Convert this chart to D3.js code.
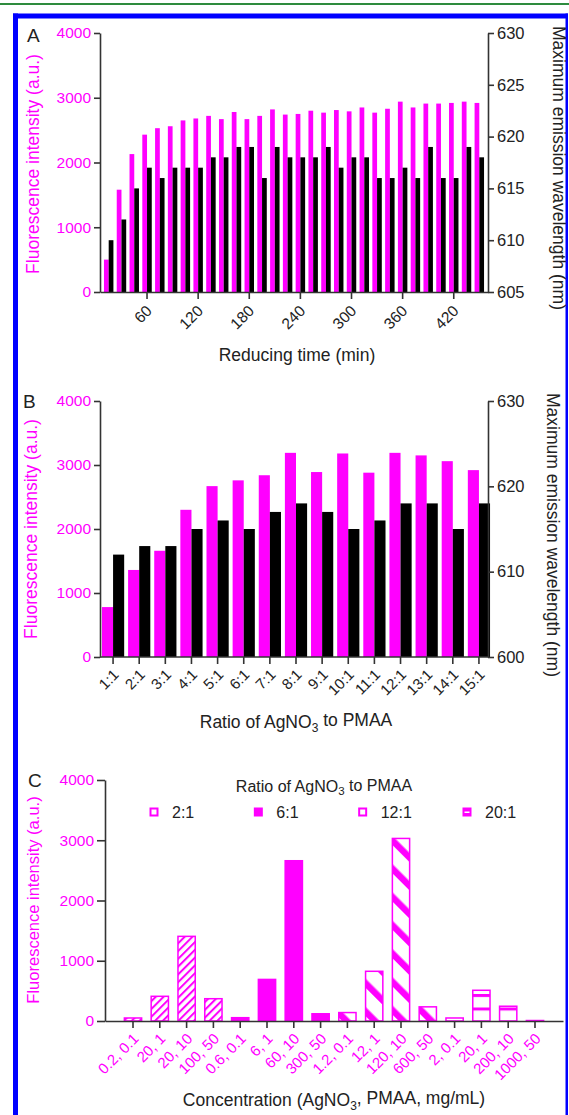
<!DOCTYPE html>
<html><head><meta charset="utf-8">
<script src="https://cdn.jsdelivr.net/npm/d3@7"></script>
<style>
body{margin:0;background:#fff;}
svg text{font-family:"Liberation Sans",Arial,Helvetica,sans-serif;}
</style>
</head><body>
<svg id="chart" width="569" height="1115"></svg>
<script>
// ---------- DATA ----------
const timeMinutes = [15,30,45,60,75,90,105,120,135,150,165,180,195,210,225,240,255,270,285,300,315,330,345,360,375,390,405,420,435,450];
const timeIntensity = [500,1580,2130,2430,2530,2560,2650,2680,2720,2670,2780,2670,2720,2820,2740,2750,2800,2770,2810,2790,2850,2770,2830,2940,2850,2910,2910,2920,2940,2920];
const timeWavelength = [610,612,615,617,616,617,617,617,618,618,619,619,616,619,618,618,618,619,617,618,618,616,616,617,616,619,616,616,619,618];
const timeTicks = [60,120,180,240,300,360,420];

const ratioLabels = ["1:1","2:1","3:1","4:1","5:1","6:1","7:1","8:1","9:1","10:1","11:1","12:1","13:1","14:1","15:1"];
const ratioIntensity = [780,1360,1660,2300,2670,2760,2840,3190,2890,3180,2880,3190,3150,3060,2920];
const ratioWavelength = [612,613,613,615,616,615,617,618,617,615,616,618,618,615,618];

const concLabels = ["0.2, 0.1","20, 1","20, 10","100, 50","0.6, 0.1","6, 1","60, 10","300, 50","1.2, 0.1","12, 1","120, 10","600, 50","2, 0.1","20, 1","200, 10","1000, 50"];
const concGroups = ["2:1","2:1","2:1","2:1","6:1","6:1","6:1","6:1","12:1","12:1","12:1","12:1","20:1","20:1","20:1","20:1"];
const concIntensity = [50,410,1405,370,55,690,2660,120,140,825,3030,235,50,510,245,8];
const legendRatios = ["2:1","6:1","12:1","20:1"];

const intensityTicks = [0,1000,2000,3000,4000];
const wavelengthTicksA = [605,610,615,620,625,630];
const wavelengthTicksB = [600,610,620,630];

// ---------- STYLE ----------
const MAG = "#ff00ff", INK = "#222", AX = "#333";
const tickFont = "15.5px", titleFont = "17.5px";
const fmt = d3.format("d");

const svg = d3.select("#chart");

// frame
svg.append("rect").attr("x",0).attr("y",3).attr("width",569).attr("height",2).attr("fill","#2e8b3e");
svg.append("rect").attr("x",13).attr("y",13.5).attr("width",555).attr("height",5).attr("fill","#0000ff");
svg.append("rect").attr("x",13).attr("y",13.5).attr("width",5).attr("height",1102).attr("fill","#0000ff");
svg.append("rect").attr("x",565.5).attr("y",13.5).attr("width",2.5).attr("height",1102).attr("fill","#0000ff");

// patterns
const defs = svg.append("defs");
const p2 = defs.append("pattern").attr("id","pat2").attr("patternUnits","userSpaceOnUse")
  .attr("width",5.5).attr("height",10).attr("patternTransform","rotate(45)");
p2.append("rect").attr("width",5.5).attr("height",10).attr("fill","#fff");
p2.append("rect").attr("width",2).attr("height",10).attr("fill",MAG);
const p12 = defs.append("pattern").attr("id","pat12").attr("patternUnits","userSpaceOnUse")
  .attr("width",20).attr("height",20).attr("patternTransform","rotate(-45)");
p12.append("rect").attr("width",20).attr("height",20).attr("fill","#fff");
p12.append("rect").attr("width",6.5).attr("height",20).attr("fill",MAG);
const p20 = defs.append("pattern").attr("id","pat20").attr("patternUnits","userSpaceOnUse")
  .attr("width",10).attr("height",13.5).attr("y",1021);
p20.append("rect").attr("width",10).attr("height",13.5).attr("fill","#fff");
p20.append("rect").attr("y",0).attr("width",10).attr("height",3).attr("fill",MAG);
const groupFill = {"2:1":"url(#pat2)","6:1":MAG,"12:1":"url(#pat12)","20:1":"url(#pat20)"};

function styleAxis(g, textColor, size){
  g.select(".domain").attr("stroke",AX).attr("stroke-width",1.6);
  g.selectAll(".tick line").attr("stroke",AX).attr("stroke-width",1.6);
  g.selectAll(".tick text").attr("fill",textColor).style("font-size",size||tickFont);
}
function rotateX(g, dx, dy){
  g.selectAll(".tick text").attr("x",0).attr("y",0).attr("dy","0.35em")
    .attr("text-anchor","end").attr("transform",`translate(${dx},${dy}) rotate(-45)`);
}

// ---------- PANEL A ----------
(function(){
  const L=100, R=488, T=33, B=292;
  const x = d3.scaleBand().domain(timeMinutes).range([L,R]).paddingInner(0.26).paddingOuter(0.31);
  const y = d3.scaleLinear().domain([0,4000]).range([B,T]);
  const yR = d3.scaleLinear().domain([605,630]).range([B,T]);
  const bw = x.bandwidth()/2;
  svg.append("g").selectAll("rect").data(timeMinutes).join("rect")
    .attr("x",d=>x(d)).attr("width",bw)
    .attr("y",(d,i)=>y(timeIntensity[i])).attr("height",(d,i)=>B-y(timeIntensity[i])).attr("fill",MAG);
  svg.append("g").selectAll("rect").data(timeMinutes).join("rect")
    .attr("x",d=>x(d)+bw).attr("width",bw)
    .attr("y",(d,i)=>yR(timeWavelength[i])).attr("height",(d,i)=>B-yR(timeWavelength[i])).attr("fill","#000");
  const gx = svg.append("g").attr("transform",`translate(0,${B})`)
    .call(d3.axisBottom(x).tickValues(timeTicks).tickSize(7).tickSizeOuter(0));
  styleAxis(gx, INK); rotateX(gx, 2, 16);
  const gy = svg.append("g").attr("transform",`translate(${L},0)`)
    .call(d3.axisLeft(y).tickValues(intensityTicks).tickFormat(fmt).tickSize(6).tickSizeOuter(0).tickPadding(3));
  styleAxis(gy, MAG);
  const gr = svg.append("g").attr("transform",`translate(${R},0)`)
    .call(d3.axisRight(yR).tickValues(wavelengthTicksA).tickFormat(fmt).tickSize(6).tickSizeOuter(0).tickPadding(3));
  styleAxis(gr, INK, "16.5px");
  svg.append("text").attr("x",27).attr("y",42).text("A").attr("fill",INK).style("font-size","19px");
  svg.append("text").attr("transform","translate(33,164) rotate(-90)").attr("text-anchor","middle").attr("dy","0.35em")
    .attr("fill",MAG).style("font-size",titleFont).text("Fluorescence intensity (a.u.)");
  svg.append("text").attr("transform","translate(559,168) rotate(90)").attr("text-anchor","middle").attr("dy","0.35em")
    .attr("fill",INK).style("font-size",titleFont).text("Maximum emission wavelength (nm)");
  svg.append("text").attr("x",(L+R)/2+3).attr("y",361).attr("text-anchor","middle")
    .attr("fill",INK).style("font-size",titleFont).text("Reducing time (min)");
})();

// ---------- PANEL B ----------
(function(){
  const L=100, R=488, T=401, B=657;
  const x = d3.scaleBand().domain(ratioLabels).range([L,492]).paddingInner(0.15).paddingOuter(0.075);
  const y = d3.scaleLinear().domain([0,4000]).range([B,T]);
  const yR = d3.scaleLinear().domain([600,630]).range([B,T]);
  const bw = x.bandwidth()/2;
  svg.append("g").selectAll("rect").data(ratioLabels).join("rect")
    .attr("x",d=>x(d)).attr("width",bw)
    .attr("y",(d,i)=>y(ratioIntensity[i])).attr("height",(d,i)=>B-y(ratioIntensity[i])).attr("fill",MAG);
  svg.append("g").selectAll("rect").data(ratioLabels).join("rect")
    .attr("x",d=>x(d)+bw).attr("width",bw)
    .attr("y",(d,i)=>yR(ratioWavelength[i])).attr("height",(d,i)=>B-yR(ratioWavelength[i])).attr("fill","#000");
  const gx = svg.append("g").attr("transform",`translate(0,${B})`)
    .call(d3.axisBottom(x).tickSize(7).tickSizeOuter(0));
  gx.select(".domain").attr("d",`M${L},0H${R}`);
  styleAxis(gx, INK, "15px"); rotateX(gx, 3, 15);
  const gy = svg.append("g").attr("transform",`translate(${L},0)`)
    .call(d3.axisLeft(y).tickValues(intensityTicks).tickFormat(fmt).tickSize(6).tickSizeOuter(0).tickPadding(3));
  styleAxis(gy, MAG);
  const gr = svg.append("g").attr("transform",`translate(${R},0)`)
    .call(d3.axisRight(yR).tickValues(wavelengthTicksB).tickFormat(fmt).tickSize(6).tickSizeOuter(0).tickPadding(3));
  styleAxis(gr, INK, "16.5px");
  svg.append("text").attr("x",23).attr("y",408).text("B").attr("fill",INK).style("font-size","19px");
  svg.append("text").attr("transform","translate(31,529) rotate(-90)").attr("text-anchor","middle").attr("dy","0.35em")
    .attr("fill",MAG).style("font-size",titleFont).text("Fluorescence intensity (a.u.)");
  svg.append("text").attr("transform","translate(553,535) rotate(90)").attr("text-anchor","middle").attr("dy","0.35em")
    .attr("fill",INK).style("font-size",titleFont).text("Maximum emission wavelength (nm)");
  const t = svg.append("text").attr("x",(L+R)/2+2).attr("y",728).attr("text-anchor","middle")
    .attr("fill",INK).style("font-size",titleFont);
  t.append("tspan").text("Ratio of AgNO");
  t.append("tspan").text("3").attr("dy","0.3em").style("font-size","12px");
  t.append("tspan").text(" to PMAA").attr("dy","-0.3em");
})();

// ---------- PANEL C ----------
(function(){
  const L=105, R=563, T=780, B=1021;
  const idx = concLabels.map((d,i)=>i);
  const x = d3.scaleBand().domain(idx).range([L,R]).paddingInner(0.3).paddingOuter(0.695);
  const y = d3.scaleLinear().domain([0,4000]).range([B,T]);
  svg.append("g").selectAll("rect").data(idx).join("rect")
    .attr("x",i=>x(i)+0.75).attr("width",x.bandwidth()-1.5)
    .attr("y",i=>y(concIntensity[i])).attr("height",i=>B-y(concIntensity[i]))
    .attr("fill",i=>groupFill[concGroups[i]]).attr("stroke",MAG).attr("stroke-width",1.5);
  const gx = svg.append("g").attr("transform",`translate(0,${B})`)
    .call(d3.axisBottom(x).tickFormat(i=>concLabels[i]).tickSize(7).tickSizeOuter(0));
  styleAxis(gx, MAG, "15px"); rotateX(gx, 3, 15);
  const gy = svg.append("g").attr("transform",`translate(${L},0)`)
    .call(d3.axisLeft(y).tickValues(intensityTicks).tickFormat(fmt).tickSize(8).tickSizeOuter(0).tickPadding(3));
  styleAxis(gy, MAG);
  svg.append("text").attr("x",28).attr("y",787).text("C").attr("fill",INK).style("font-size","19px");
  svg.append("text").attr("transform","translate(33,900) rotate(-90)").attr("text-anchor","middle").attr("dy","0.35em")
    .attr("fill",MAG).style("font-size","16.5px").text("Fluorescence intensity (a.u.)");
  const t = svg.append("text").attr("x",(L+R)/2).attr("y",1106).attr("text-anchor","middle")
    .attr("fill",INK).style("font-size",titleFont);
  t.append("tspan").text("Concentration (AgNO");
  t.append("tspan").text("3").attr("dy","0.3em").style("font-size","12px");
  t.append("tspan").text(", PMAA, mg/mL)").attr("dy","-0.3em");
  // legend
  const lt = svg.append("text").attr("x",324).attr("y",792).attr("text-anchor","middle")
    .attr("fill",INK).style("font-size","16px");
  lt.append("tspan").text("Ratio of AgNO");
  lt.append("tspan").text("3").attr("dy","0.3em").style("font-size","11.5px");
  lt.append("tspan").text(" to PMAA").attr("dy","-0.3em");
  const lx = d3.scalePoint().domain(legendRatios).range([154,467]);
  const li = svg.append("g").selectAll("g").data(legendRatios).join("g")
    .attr("transform",d=>`translate(${lx(d)},812)`);
  li.append("rect").attr("x",-3.5).attr("y",-3.5).attr("width",7).attr("height",7)
    .attr("fill",d=>d==="6:1"?MAG:(d==="20:1"?MAG:"#fff")).attr("stroke",MAG).attr("stroke-width",2);
  li.filter(d=>d==="20:1").append("rect").attr("x",-2.5).attr("y",-0.5).attr("width",5).attr("height",1.5).attr("fill","#fff");
  li.append("text").attr("x",18).attr("dy","0.35em").attr("fill",INK).style("font-size","16px").text(d=>d);
})();
</script>
</body></html>
